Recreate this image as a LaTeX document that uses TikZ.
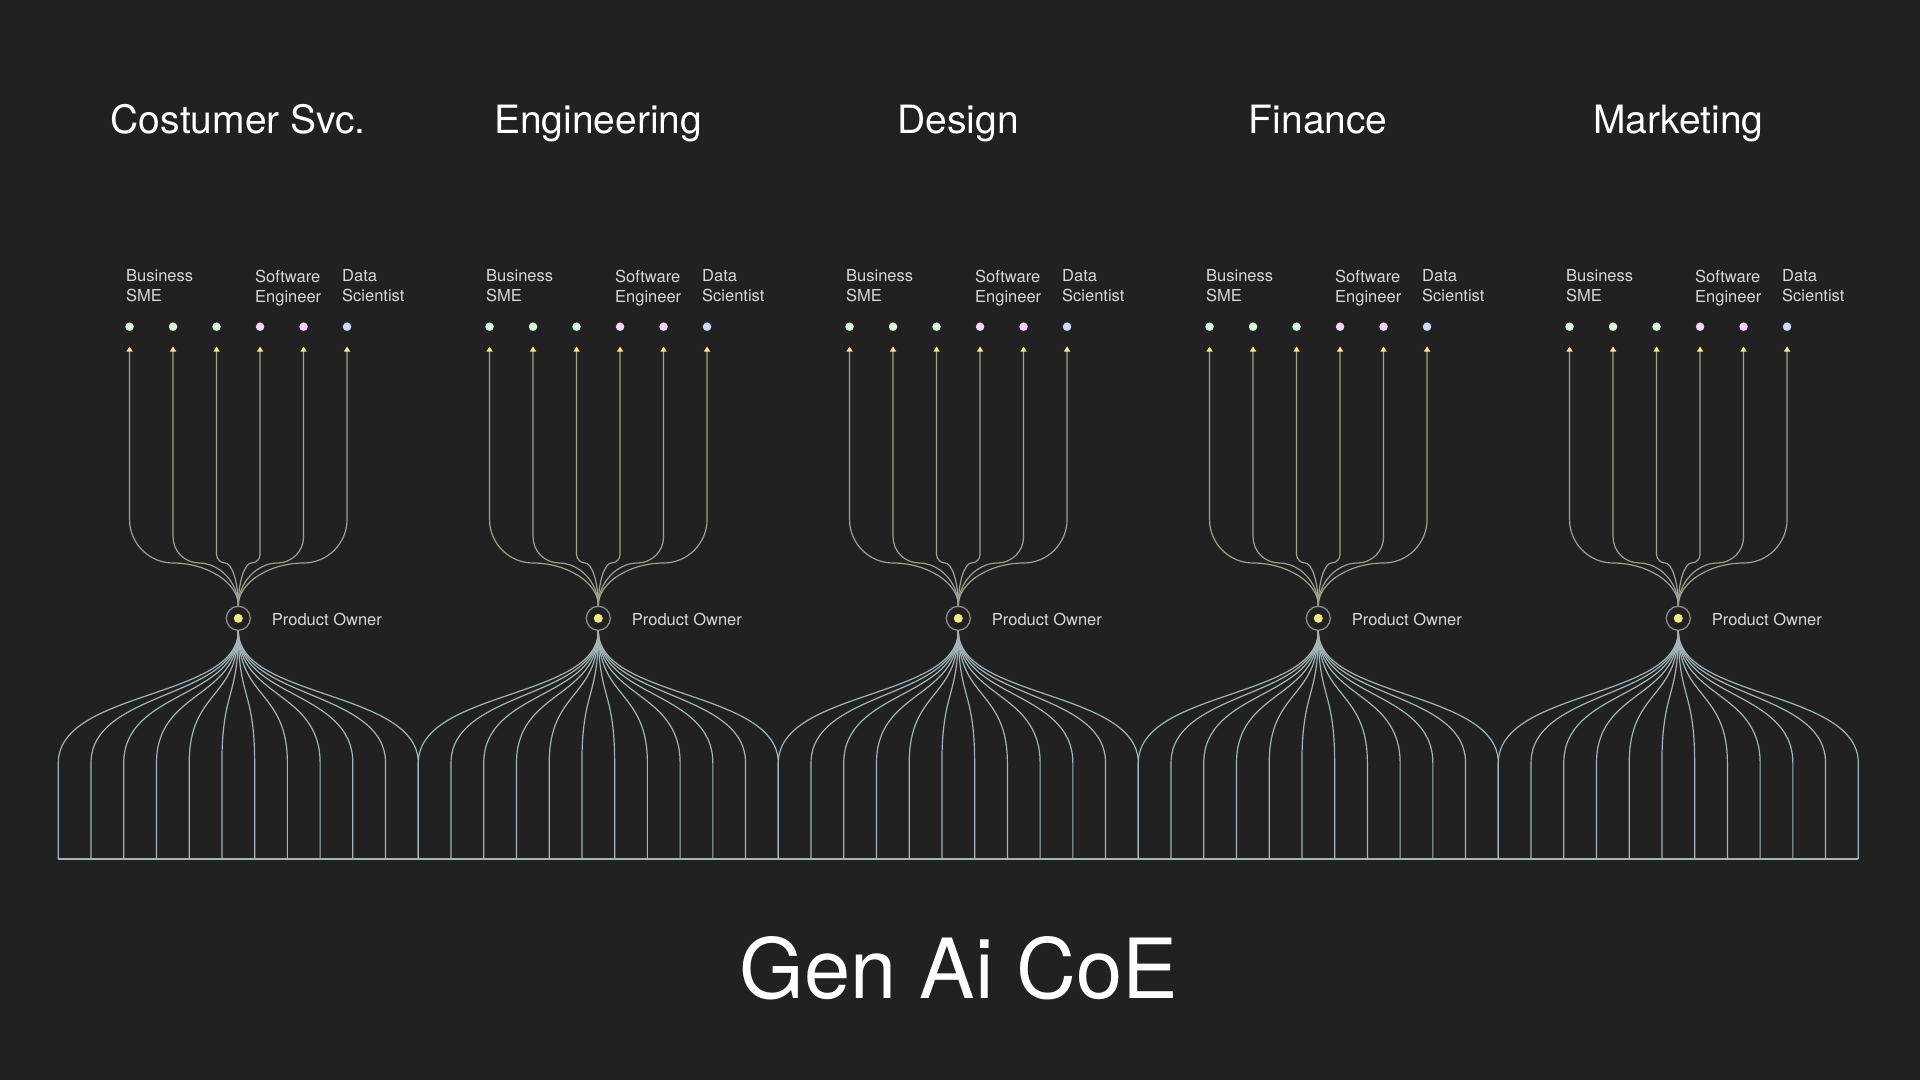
\documentclass[tikz,border=0pt]{standalone}
\usepackage{fontspec}
\setmainfont{TeX Gyre Heros}
\usetikzlibrary{arrows.meta,calc}
\definecolor{BG}{HTML}{212121}
\definecolor{LB}{HTML}{A3B3B8}
\definecolor{LT}{HTML}{9DA292}
\definecolor{TY}{HTML}{F2EA8C}
\definecolor{DG}{HTML}{D9F7D9}
\definecolor{DP}{HTML}{F7D4F2}
\definecolor{DB}{HTML}{CCD9F7}
\definecolor{TX}{HTML}{D8D8D8}
\definecolor{RG}{HTML}{8C8C8C}

\begin{document}
\begin{tikzpicture}[x=1pt,y=-1pt,
    head/.style={text=white,font=\fontsize{39}{46}\selectfont,anchor=base,inner sep=0pt},
    role/.style={text=TX,font=\fontsize{16.5}{20}\selectfont,align=left,anchor=north west,inner sep=0pt},
    member/.style={circle,inner sep=0pt,minimum size=8.5pt},
    owner/.style={circle,draw=RG,line width=1.3pt,fill=BG,inner sep=0pt,minimum size=24pt},
    up/.style={draw=LT,line width=1.2pt,-{Triangle[width=6pt,length=5pt,color=TY]}},
    down/.style={draw=LB,line width=1.2pt}]
  \fill[BG] (0,0) rectangle (1920,1080);
  \useasboundingbox (0,0) rectangle (1920,1080);
  \foreach \i/\name in {0/Costumer Svc.,1/Engineering,2/Design,3/Finance,4/Marketing}{
    \pgfmathsetmacro{\xc}{238.3+\i*360}
    \node[head] (t\i) at (\xc,133) {\name};
    \node[role] (r\i-a) at (\xc-112.3,269.5) {Business\\SME};
    \node[role] (r\i-b) at (\xc+16.7,269.5) {Software\\Engineer};
    \node[role] (r\i-c) at (\xc+103.7,269.5) {Data\\Scientist};
    \foreach \j/\dx/\col in {1/-108.75/DG,2/-65.25/DG,3/-21.75/DG,4/21.75/DP,5/65.25/DP,6/108.75/DB}
      \node[member,fill=\col] (m\i-\j) at (\xc+\dx,326.7) {};
    \node[owner] (po\i) at (\xc,618.3) {};
    \fill[TY] (po\i) circle (4.5pt);
    \node[role,anchor=base west] (pl\i) at (\xc+33.4,625.7) {Product Owner};
    \foreach \j/\dx in {1/-108.75,2/-65.25,3/-21.75,4/21.75,5/65.25,6/108.75}{
      \pgfmathsetmacro{\xa}{\xc+0.3*\dx}
      \pgfmathsetmacro{\xb}{\xc+0.6*\dx}
      \pgfmathsetmacro{\xd}{\xc+0.82*\dx}
      \pgfmathsetmacro{\ya}{563-0.18*abs(\dx)}
      \pgfmathsetmacro{\yb}{563-0.4*abs(\dx)}
      \draw[up] (po\i.north) .. controls ($(po\i.north)+(0,-24)$) and (\xa,563) .. (\xb,563)
        .. controls (\xd,563) and (\xc+\dx,\ya) .. (\xc+\dx,\yb) -- ($(m\i-\j)+(0,19.8)$);
    }
    \foreach \k in {0,...,11}{
      \pgfmathsetmacro{\dx}{-180+\k*360/11}
      \coordinate (b\i-\k) at (\xc+\dx,859);
      \draw[down] (po\i.south) .. controls ($(po\i.south)+(0,68)$)
        and ($(b\i-\k)+(0,-169)$) .. ($(b\i-\k)+(0,-96)$) -- (b\i-\k);
    }
  }
  \draw[down] (b0-0) -- (b4-11);
  \node[anchor=base,text=white,font=\fontsize{83}{90}\selectfont,inner sep=0pt] (coe) at (959,998) {Gen Ai CoE};
\end{tikzpicture}
\end{document}
